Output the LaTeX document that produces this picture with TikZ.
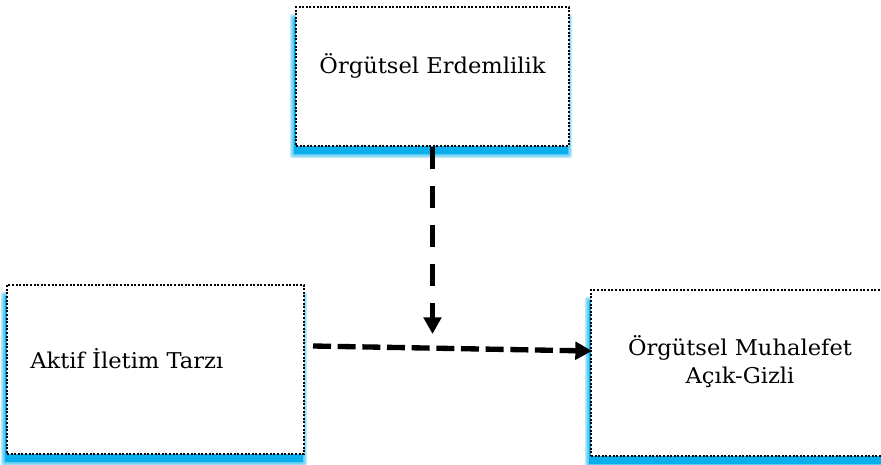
\documentclass[tikz,border=0pt]{standalone}
\usepackage{fontspec}
\newfontfamily\boxfont[FakeStretch=1.04]{DejaVu Serif}
\usetikzlibrary{arrows.meta,calc,backgrounds}
\definecolor{glowblue}{RGB}{0,172,236}
\begin{document}
\begin{tikzpicture}[x=0.75pt,y=-0.75pt,
  boxnode/.style={draw=black, line width=1.8pt, dash pattern=on 1.5pt off 1.2pt, fill=white, inner sep=0pt},
  label/.style={font=\boxfont\fontsize{16.3pt}{21pt}\selectfont, inner sep=0pt},
  conn/.style={line width=4pt, -{Triangle[length=12.5pt,width=13pt]}}]
\useasboundingbox (0,0) rectangle (881,464);
\clip (0,0) rectangle (881,464);
\node[boxnode, minimum width=204.75pt, minimum height=104.25pt] (top) at (432.5,76.5) {};
\node[boxnode, minimum width=222.75pt, minimum height=126.75pt] (left) at (155.5,369.5) {};
\node[boxnode, minimum width=224.25pt, minimum height=124.5pt] (right) at (740.5,373) {};
\begin{scope}[on background layer]
\foreach \n in {top,left,right}{
  \foreach \r in {4,3,2,1}{
    \fill[glowblue, opacity=0.22, rounded corners=2pt]
      ($(\n.north west)+(-1-\r,12-\r)$) rectangle ($(\n.south east)+(-2+\r,7+\r)$);
  }
  \fill[glowblue, opacity=0.9] ($(\n.north west)+(-1,12)$) rectangle ($(\n.south east)+(-2,7)$);
}
\end{scope}
\node[label, anchor=base] (ttext) at (432.5,73) {Örgütsel Erdemlilik};
\node[label, anchor=base west] (ltext) at (30,368) {Aktif İletim Tarzı};
\node[label, anchor=base] (rtext1) at (740,355) {Örgütsel Muhalefet};
\node[label, anchor=base] (rtext2) at (740,383) {Açık-Gizli};
\coordinate (vend) at (432.5,334);
\coordinate (hstart) at (313,346);
\coordinate (hend) at (592,351);
\draw[conn, dash pattern=on 16.5pt off 12.75pt] (top.south) -- (vend);
\draw[conn, dash pattern=on 13.5pt off 5pt] (hstart) -- (hend);
\end{tikzpicture}
\end{document}
